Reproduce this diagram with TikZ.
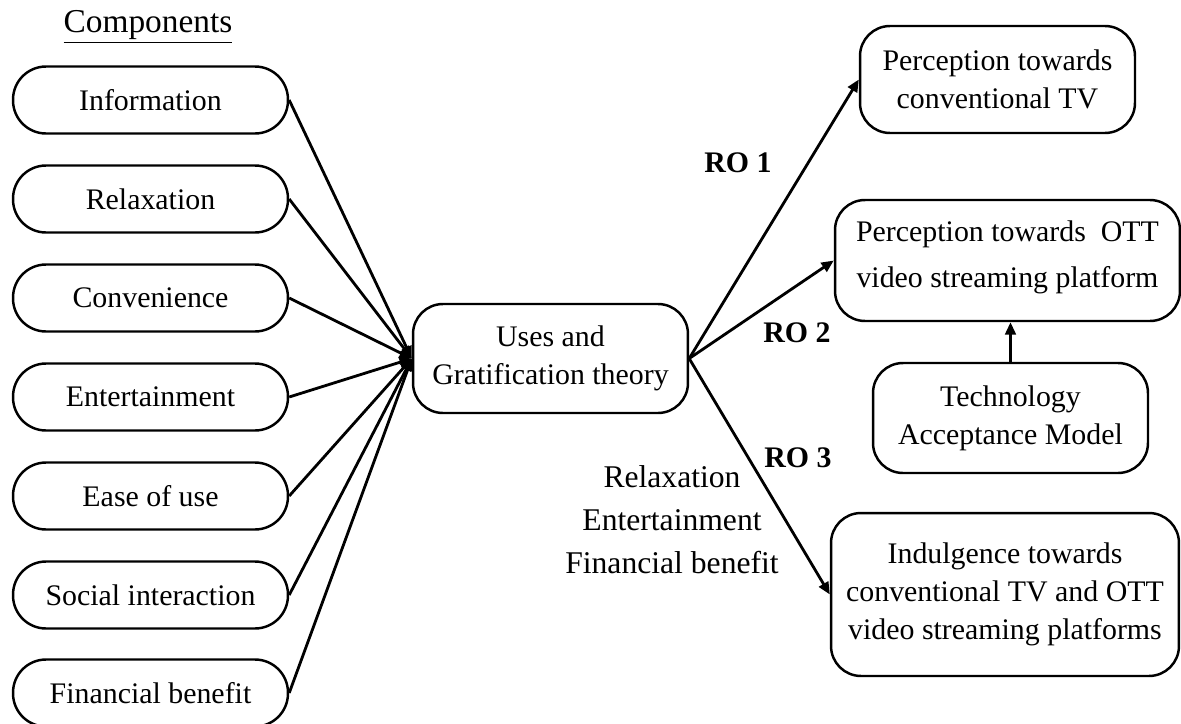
\documentclass[tikz,border=0pt]{standalone}
\usepackage{fontspec}
\setmainfont{Liberation Serif}
\usetikzlibrary{arrows.meta}

\begin{document}
\begin{tikzpicture}[x=0.02cm, y=-0.02cm,
  box/.style={draw, line width=1.4pt, rounded corners=0.6cm, align=center,
    minimum width=5.5cm, font=\fontsize{17}{21.5}\selectfont},
  comp/.style={box, rounded corners=0.66cm, minimum height=1.34cm},
  link/.style={-{Triangle[length=7pt,width=6pt]}, line width=1.6pt},
  ro/.style={font=\fontsize{17}{20}\selectfont\bfseries}]
\useasboundingbox (0,0) rectangle (1181,724);
\node[font=\fontsize{19}{22}\selectfont] (title) at (148,27) {\underline{Components}};
% components on the left
\foreach \n/\t/\y in {info/Information/100, relax/Relaxation/199, conv/Convenience/298,
  ent/Entertainment/397, ease/Ease of use/496, soc/Social interaction/595,
  fin/Financial benefit/693}
  \node[comp] (\n) at (150.5,\y) {\t};
\node[box, minimum height=2.18cm] (uses) at (550.5,358.5) {Uses and\\Gratification theory};
\foreach \n in {info,relax,conv,ent,ease,soc,fin} \draw[link] (\n.east)--(uses.west);
% outcomes on the right
\node[box, minimum height=2.14cm] (tvconv) at (997.5,79.5) {Perception towards\\conventional TV};
\node[box, minimum width=6.9cm, minimum height=2.42cm] (ott) at (1007.5,260.5)
  {Perception towards\ \ OTT\\[5pt]video streaming platform\\[-14pt]};
\node[box, minimum height=2.2cm] (tam) at (1010.5,418) {Technology\\Acceptance Model};
\node[box, minimum width=6.96cm, minimum height=3.26cm] (indul) at (1005,594.5)
  {Indulgence towards\\conventional TV and OTT\\video streaming platforms};
\draw[link] (uses.east)--(tvconv.west);
\draw[link] (uses.east)--(ott.west);
\draw[link] (uses.east)--(indul.west);
\draw[link] (tam.north)--(tam.north|-ott.south);
\path
(738,163) node[ro] (ro1) {RO 1}
(797,333) node[ro] (ro2) {RO 2}
(798,458) node[ro] (ro3) {RO 3};
\node[align=center, font=\fontsize{18}{24.4}\selectfont] (sub) at (672,520)
  {Relaxation\\Entertainment\\Financial benefit};
\end{tikzpicture}
\end{document}
